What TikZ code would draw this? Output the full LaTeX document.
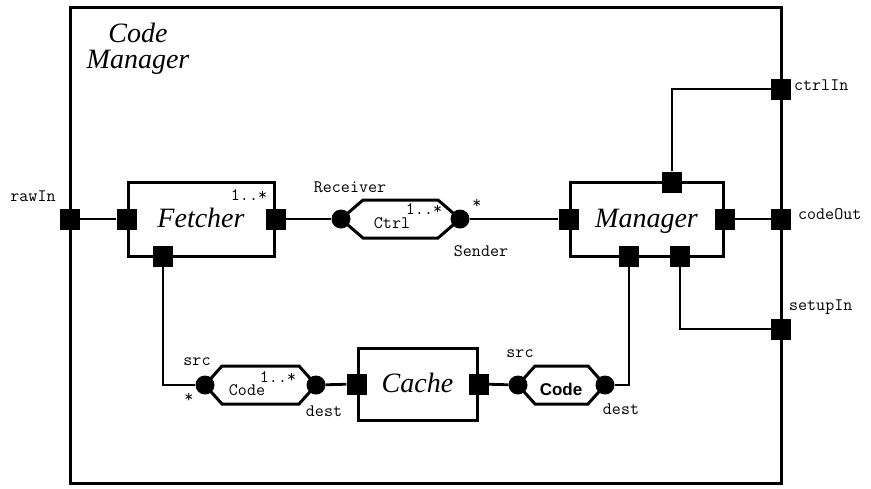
\documentclass[tikz,border=0pt]{standalone}
\usepackage{fontspec}
\setmainfont{Liberation Serif}
\newfontfamily\headsans{Liberation Sans}
\usetikzlibrary{calc}
\begin{document}
\begin{tikzpicture}[x=1pt,y=-1pt,
  wire/.style={line width=2.8pt},
  frame/.style={draw, line width=3pt, inner sep=0pt},
  part/.style={frame, font=\fontsize{28}{30}\selectfont\itshape, text height=20pt, text depth=4pt},
  port/.style={fill=black, minimum width=20pt, minimum height=21pt, inner sep=0pt},
  pin/.style={circle, fill=black, minimum size=19pt, inner sep=0pt},
  hexbody/.style={draw, fill=white, line width=3pt, line join=miter},
  mono/.style={font=\ttfamily\fontsize{17.5}{19}\selectfont, inner sep=0pt},
  boldsans/.style={font=\headsans\bfseries\fontsize{17}{19}\selectfont, inner sep=0pt},
]
\useasboundingbox (0,0) rectangle (871,488);

% enclosing component
\node[frame, minimum width=711pt, minimum height=476pt] (codemgr) at (425.5,245) {};
\node[font=\fontsize{28}{26}\selectfont\itshape, align=center, inner sep=0pt] (title) at (138,49) {Code\\Manager};

% inner parts
\node[part, minimum width=146pt, minimum height=74pt] (fetcher) at (201,219) {Fetcher};
\node[part, minimum width=153pt, minimum height=74pt] (manager) at (646.5,219) {Manager};
\node[part, minimum width=119pt, minimum height=72pt] (cache) at (417.5,384) {Cache};

% ports
\node[port] (rawin) at (70,219) {};
\node[port] (fin) at (fetcher.west) {};
\node[port] (fout) at (fetcher.east) {};
\node[port] (fcode) at (163,256) {};
\node[port] (min) at (manager.west) {};
\node[port] (mout) at (manager.east) {};
\node[port] (mctrl) at (672,182) {};
\node[port] (mcode) at (629,256) {};
\node[port] (msetup) at (680,256) {};
\node[port] (ctrlin) at (781,89) {};
\node[port] (codeout) at (781,219) {};
\node[port] (setupin) at (781,329) {};
\node[port] (cin) at (cache.west) {};
\node[port] (cout) at (cache.east) {};

% connector bodies
\coordinate (recvpt) at (341,219);
\coordinate (sendpt) at (460,219);
\draw[hexbody] (recvpt) -- ($(recvpt)+(22,-19)$) -- ($(sendpt)+(-22,-19)$) -- (sendpt)
  -- ($(sendpt)+(-22,19)$) -- ($(recvpt)+(22,19)$) -- cycle;
\coordinate (src1pt) at (205,385);
\coordinate (dest1pt) at (316,385);
\draw[hexbody] (src1pt) -- ($(src1pt)+(17,-19)$) -- ($(dest1pt)+(-17,-19)$) -- (dest1pt)
  -- ($(dest1pt)+(-17,19)$) -- ($(src1pt)+(17,19)$) -- cycle;
\coordinate (src2pt) at (518,385);
\coordinate (dest2pt) at (605,385);
\draw[hexbody] (src2pt) -- ($(src2pt)+(17,-19)$) -- ($(dest2pt)+(-17,-19)$) -- (dest2pt)
  -- ($(dest2pt)+(-17,19)$) -- ($(src2pt)+(17,19)$) -- cycle;

% connector ends
\node[pin] (recv) at (recvpt) {};
\node[pin] (send) at (sendpt) {};
\node[pin] (src1) at (src1pt) {};
\node[pin] (dest1) at (dest1pt) {};
\node[pin] (src2) at (src2pt) {};
\node[pin] (dest2) at (dest2pt) {};

% wiring
\draw[wire] (rawin) -- (fin);
\draw[wire] (fout) -- (recv);
\draw[wire] (send) -- (min);
\draw[wire] (mout) -- (codeout);
\draw[wire] (mctrl) |- (ctrlin);
\draw[wire] (msetup) |- (setupin);
\draw[wire] (fcode) |- (src1);
\draw[wire] (dest1) -- (cin);
\draw[wire] (cout) -- (src2);
\draw[wire] (dest2) -| (mcode);

% labels
\node[mono] (rawinlbl) at (33,196) {rawIn};
\node[mono] (fmult) at (249,195) {1..*};
\node[mono] (recvlbl) at (350,187) {Receiver};
\node[mono] (ctrllbl) at (392,223) {Ctrl};
\node[mono] (ctrlmult) at (424,209) {1..*};
\node[mono] (sendmult) at (477,204) {*};
\node[mono] (sendlbl) at (481,251) {Sender};
\node[mono, anchor=west] (ctrlinlbl) at (794,85) {ctrlIn};
\node[mono, anchor=west] (codeoutlbl) at (798,214) {codeOut};
\node[mono, anchor=west] (setupinlbl) at (789,307) {setupIn};
\node[mono] (src1lbl) at (197,362) {src};
\node[mono] (src1mult) at (189,398) {*};
\node[mono] (code1lbl) at (247,390) {Code};
\node[mono] (code1mult) at (278,377) {1..*};
\node[mono] (dest1lbl) at (324,411) {dest};
\node[mono] (src2lbl) at (520,354) {src};
\node[boldsans] (code2lbl) at (561,389) {Code};
\node[mono] (dest2lbl) at (621,409) {dest};
\end{tikzpicture}
\end{document}
